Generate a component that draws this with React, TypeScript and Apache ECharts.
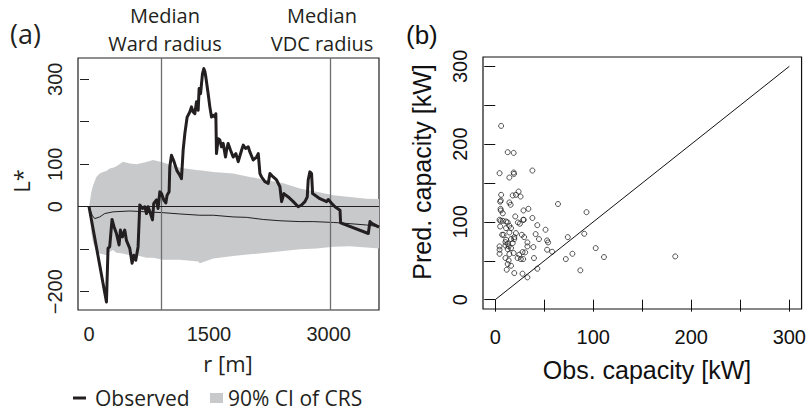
import React, { useEffect, useRef } from "react";
import * as echarts from "echarts";

// ---------- Panel (a) data ----------
const observed: [number, number][] = [
  [0, 0], [218, -224], [238, -98], [259, -94], [288, -30], [313, -47], [343, -63], [376, -90],
  [393, -55], [418, -71], [447, -55], [468, -79], [510, -98], [539, -133], [560, -114], [585, -126],
  [614, -94], [635, 4], [668, -4], [698, 0], [719, -16], [739, 0], [769, -16], [794, -31], [810, 8],
  [844, 16], [864, -4], [886, 35], [907, 31], [936, 16], [961, 9], [977, 27], [1002, 35], [1011, 94],
  [1032, 121], [1060, 108], [1100, 85], [1136, 74], [1157, 66], [1178, 133], [1199, 172], [1228, 211],
  [1261, 223], [1282, 235], [1303, 223], [1324, 219], [1345, 247], [1366, 227], [1378, 278], [1396, 266],
  [1420, 313], [1437, 325], [1450, 318], [1462, 305], [1491, 266], [1512, 235], [1533, 211], [1553, 215],
  [1574, 211], [1587, 219], [1595, 125], [1616, 160], [1637, 157], [1658, 141], [1679, 149], [1708, 117],
  [1721, 133], [1741, 149], [1771, 133], [1804, 117], [1838, 125], [1867, 106], [1909, 133], [1930, 145],
  [1959, 137], [1992, 141], [2013, 129], [2055, 110], [2097, 117], [2118, 125], [2139, 78], [2160, 70],
  [2201, 59], [2243, 55], [2264, 78], [2305, 70], [2347, 63], [2389, 47], [2410, 12], [2438, 31],
  [2493, 23], [2556, 12], [2618, 0], [2660, 4], [2702, 12], [2731, 23], [2743, 63], [2764, 82],
  [2785, 78], [2798, 31], [2889, 19], [2973, 12], [2994, 17], [3036, 8], [3078, 0], [3141, -8],
  [3149, -38], [3495, -63], [3516, -35], [3537, -39], [3629, -48],
];

const ciX = [0, 30, 50, 92, 134, 176, 218, 259, 301, 343, 426, 510, 594, 719, 802, 928, 1136, 1366, 1387,
  1554, 1804, 2013, 2222, 2431, 2639, 2848, 3057, 3266, 3475, 3629];
const ciUpper = [0, 35, 50, 70, 78, 82, 84, 90, 92, 95, 106, 102, 100, 105, 110, 104, 92, 86, 86,
  82, 78, 70, 63, 55, 43, 35, 27, 23, 19, 18];
const ciLower = [0, -63, -85, -105, -110, -112, -114, -106, -102, -108, -110, -114, -114, -120, -120, -125, -125, -129, -133,
  -122, -116, -112, -108, -104, -100, -98, -94, -93, -96, -98];

const crsMedian: [number, number][] = [
  [0, 0], [40, -20], [71, -28], [134, -24], [197, -16], [301, -12], [510, -10], [719, -12], [928, -14],
  [1136, -17], [1387, -20], [1554, -20], [1804, -24], [1972, -25], [2180, -30], [2389, -33], [2639, -35],
  [2806, -35], [3057, -37], [3141, -38], [3475, -43], [3629, -47],
];

const wardMedianRadius = 898;
const vdcMedianRadius = 3016;

const aTicksX = [0, 500, 1000, 1500, 2000, 2500, 3000, 3500];
const aLabelsX = [0, 1500, 3000];
const aTicksY = [-200, -100, 0, 100, 200, 300];
const aLabelsY = [-200, 0, 100, 300];

// ---------- Panel (b) data ----------
const obsCapacity = [
  6.0, 4.4, 18.8, 19.1, 12.7, 18.8, 14.4, 37.9, 23.8, 17.8, 21.1, 25.8, 6.0, 5.0, 5.7, 14.4, 15.7, 64.0,
  33.8, 28.8, 93.1, 5.4, 5.7, 7.7, 20.4, 37.9, 28.5, 29.1, 4.4, 5.4, 7.7, 11.0, 12.7, 23.1, 25.1, 42.9,
  5.0, 14.4, 11.0, 16.1, 51.3, 14.4, 21.1, 7.0, 8.4, 27.1, 41.2, 90.8, 19.4, 29.5, 74.0, 16.1, 11.0,
  44.6, 19.4, 52.9, 10.4, 53.9, 32.8, 17.8, 12.7, 10.4, 13.7, 4.4, 32.8, 38.9, 102.5, 16.1, 4.4, 52.9,
  12.7, 27.8, 18.8, 58.0, 30.5, 4.4, 14.4, 78.7, 24.5, 110.9, 183.6, 10.4, 22.8, 26.1, 28.5, 39.5,
  72.0, 13.7, 12.7, 16.1, 42.9, 11.7, 86.8, 19.4, 27.8, 32.8,
];
const predCapacity = [
  223.4, 162.6, 163.5, 161.7, 189.6, 188.7, 157.0, 166.0, 139.0, 134.0, 134.8, 132.6, 134.8, 126.0, 127.5,
  125.0, 122.0, 123.0, 116.8, 114.7, 112.5, 116.8, 114.7, 111.0, 107.0, 105.0, 102.7, 102.7, 102.7, 101.4,
  101.4, 100.6, 99.3, 99.3, 97.6, 95.8, 94.1, 95.0, 92.0, 92.0, 89.9, 86.4, 85.6, 83.4, 83.4, 83.4, 84.3,
  84.7, 80.4, 80.4, 80.4, 77.9, 77.0, 77.9, 77.9, 76.2, 74.0, 73.6, 73.6, 72.7, 71.9, 69.7, 68.5, 68.5,
  68.5, 67.6, 66.3, 66.3, 64.2, 64.2, 65.0, 61.2, 59.9, 61.6, 60.8, 59.0, 58.6, 59.0, 57.8, 54.8, 55.6,
  53.5, 53.5, 52.2, 52.2, 53.5, 52.2, 50.5, 45.8, 43.6, 39.8, 38.5, 37.7, 34.2, 33.4, 28.7,
];
const identityLine: [number, number][] = [[0, 0], [300, 300]];

const bTicks = [0, 50, 100, 150, 200, 250, 300];
const bLabels = [0, 100, 200, 300];

const INK = "#231f20";
const BAND = "#c8c9cb";
const TITLE_FONT = "'Open Sans', 'Noto Sans', sans-serif";
const TICK_FONT = "'Liberation Sans', Arial, sans-serif";

function fmtNum(v: number) {
  return v < 0 ? "\u2212" + Math.abs(v) : String(v);
}

export default function App() {
  const ref = useRef<HTMLDivElement>(null);

  useEffect(() => {
    if (!ref.current) return;
    const chart = echarts.init(ref.current, null, { renderer: "svg" });

    const upperData = ciX.map((x, i) => [x, ciUpper[i]]);
    const lowerData = ciX.map((x, i) => [x, ciLower[i]]);
    const scatterData = obsCapacity.map((x, i) => [x, predCapacity[i]]);

    const option: any = {
      animation: false,
      backgroundColor: "#ffffff",
      grid: [
        { left: 78, top: 58, width: 301, height: 252, show: true, borderColor: INK, borderWidth: 1.2, backgroundColor: "transparent" },
        { left: 483, top: 57, width: 322, height: 252, show: true, borderColor: "#111", borderWidth: 1.2, backgroundColor: "transparent" },
      ],
      xAxis: [
        {
          gridIndex: 0, type: "value", min: -138, max: 3629,
          axisLine: { show: false }, splitLine: { show: false },
          axisTick: { show: true, inside: false, length: 9, customValues: aTicksX, lineStyle: { color: INK, width: 1 } },
          axisLabel: { customValues: aLabelsX, fontSize: 20, fontFamily: TICK_FONT, color: INK, margin: 14, formatter: fmtNum },
        },
        {
          gridIndex: 1, type: "value", min: -12.5, max: 312.5,
          axisLine: { show: false }, splitLine: { show: false },
          axisTick: { show: true, inside: false, length: 12, customValues: bTicks, lineStyle: { color: "#111", width: 1 } },
          axisLabel: { customValues: bLabels, fontSize: 20, fontFamily: TICK_FONT, color: "#111", margin: 18 },
        },
      ],
      yAxis: [
        {
          gridIndex: 0, type: "value", min: -243, max: 350,
          axisLine: { show: false }, splitLine: { show: false },
          axisTick: { show: true, inside: false, length: 9, customValues: aTicksY, lineStyle: { color: INK, width: 1 } },
          axisLabel: { customValues: aLabelsY, rotate: 90, fontSize: 20, fontFamily: TICK_FONT, color: INK, margin: 13, formatter: fmtNum },
        },
        {
          gridIndex: 1, type: "value", min: -12, max: 312,
          axisLine: { show: false }, splitLine: { show: false },
          axisTick: { show: true, inside: false, length: 11, customValues: bTicks, lineStyle: { color: "#111", width: 1 } },
          axisLabel: { customValues: bLabels, rotate: 90, fontSize: 20, fontFamily: TICK_FONT, color: "#111", margin: 13 },
        },
      ],
      series: [
        {
          name: "ciUpper", type: "line", xAxisIndex: 0, yAxisIndex: 0, data: upperData,
          symbol: "none", lineStyle: { width: 0, opacity: 0 },
          areaStyle: { color: BAND, opacity: 1, origin: "auto" }, silent: true, z: 1,
        },
        {
          name: "ciLower", type: "line", xAxisIndex: 0, yAxisIndex: 0, data: lowerData,
          symbol: "none", lineStyle: { width: 0, opacity: 0 },
          areaStyle: { color: BAND, opacity: 1, origin: "auto" }, silent: true, z: 1,
        },
        {
          name: "CRS median", type: "line", xAxisIndex: 0, yAxisIndex: 0, data: crsMedian,
          symbol: "none", lineStyle: { color: INK, width: 1 }, z: 3,
          markLine: {
            silent: true, symbol: "none", animation: false,
            label: { show: false },
            lineStyle: { color: "#6d6e71", width: 1.3, type: "solid" },
            data: [{ xAxis: wardMedianRadius }, { xAxis: vdcMedianRadius }],
          },
        },
        {
          name: "zero", type: "line", xAxisIndex: 0, yAxisIndex: 0, data: [],
          symbol: "none", z: 3,
          markLine: {
            silent: true, symbol: "none", animation: false,
            label: { show: false },
            lineStyle: { color: INK, width: 1.1, type: "solid" },
            data: [{ yAxis: 0 }],
          },
        },
        {
          name: "Observed", type: "line", xAxisIndex: 0, yAxisIndex: 0, data: observed,
          symbol: "none", lineStyle: { color: INK, width: 3, join: "round" }, z: 5,
        },
        {
          name: "identity", type: "line", xAxisIndex: 1, yAxisIndex: 1, data: identityLine,
          symbol: "none", lineStyle: { color: "#111", width: 1 }, z: 3,
        },
        {
          name: "capacity", type: "scatter", xAxisIndex: 1, yAxisIndex: 1, data: scatterData,
          symbol: "circle", symbolSize: 5,
          itemStyle: { color: "rgba(0,0,0,0)", borderColor: "#111", borderWidth: 0.9 }, z: 4,
        },
      ],
      graphic: [
        { type: "text", x: 10, y: 33, style: { text: "(a)", font: `27px ${TITLE_FONT}`, fill: INK, verticalAlign: "middle", align: "left" } },
        { type: "text", x: 165, y: 15.5, style: { text: "Median", font: `20px ${TITLE_FONT}`, fill: INK, verticalAlign: "middle", align: "center" } },
        { type: "text", x: 165, y: 43.5, style: { text: "Ward radius", font: `20px ${TITLE_FONT}`, fill: INK, verticalAlign: "middle", align: "center" } },
        { type: "text", x: 322, y: 15.5, style: { text: "Median", font: `20px ${TITLE_FONT}`, fill: INK, verticalAlign: "middle", align: "center" } },
        { type: "text", x: 322, y: 43.5, style: { text: "VDC radius", font: `20px ${TITLE_FONT}`, fill: INK, verticalAlign: "middle", align: "center" } },
        { type: "text", x: 21, y: 181, rotation: Math.PI / 2, style: { text: "L*", font: `22px ${TITLE_FONT}`, fill: INK, verticalAlign: "middle", align: "center" } },
        { type: "text", x: 228, y: 363, style: { text: "r [m]", font: `22px ${TITLE_FONT}`, fill: INK, verticalAlign: "middle", align: "center" } },
        { type: "line", shape: { x1: 73, y1: 398, x2: 86, y2: 398 }, style: { stroke: INK, lineWidth: 3 } },
        { type: "text", x: 95, y: 398, style: { text: "Observed", font: `21px ${TITLE_FONT}`, fill: INK, verticalAlign: "middle", align: "left" } },
        { type: "rect", shape: { x: 210, y: 393, width: 13, height: 10 }, style: { fill: BAND } },
        { type: "text", x: 228, y: 398, style: { text: "90% CI of CRS", font: `21px ${TITLE_FONT}`, fill: INK, verticalAlign: "middle", align: "left" } },
        { type: "text", x: 406, y: 35, style: { text: "(b)", font: `26px ${TICK_FONT}`, fill: "#111", verticalAlign: "middle", align: "left" } },
        { type: "text", x: 422, y: 172, rotation: Math.PI / 2, style: { text: "Pred. capacity [kW]", font: `25px ${TICK_FONT}`, fill: "#111", verticalAlign: "middle", align: "center" } },
        { type: "text", x: 647, y: 370, style: { text: "Obs. capacity [kW]", font: `25px ${TICK_FONT}`, fill: "#111", verticalAlign: "middle", align: "center" } },
      ],
    };

    chart.setOption(option);
    return () => chart.dispose();
  }, []);

  return <div ref={ref} style={{ position: "fixed", left: 0, top: 0, width: 809, height: 413 }} />;
}
